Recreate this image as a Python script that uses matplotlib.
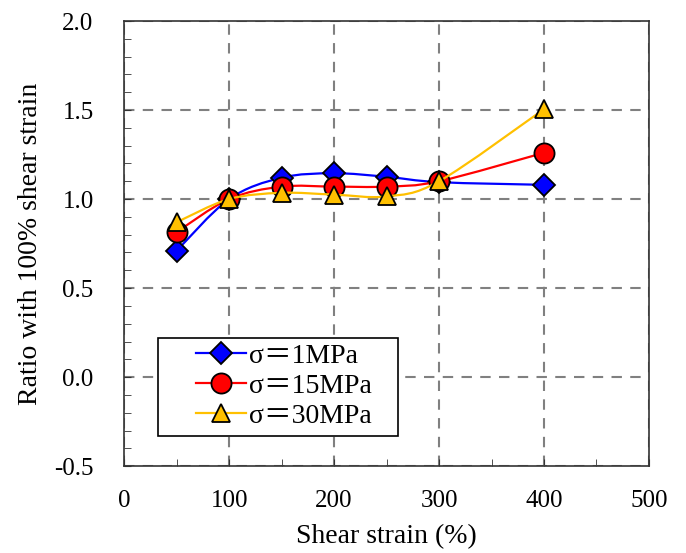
import numpy as np
import matplotlib
matplotlib.use("Agg")
import matplotlib.pyplot as plt
from matplotlib.path import Path
from matplotlib.patches import PathPatch, Rectangle
from matplotlib.lines import Line2D
from matplotlib.ticker import MultipleLocator, FormatStrFormatter

plt.rcParams['font.family'] = ['Liberation Serif', 'Noto Sans CJK SC', 'DejaVu Sans']
plt.rcParams['axes.unicode_minus'] = False

strain = [50, 100, 150, 200, 250, 300, 400]
ratio_1 = [0.71, 1.00, 1.12, 1.145, 1.125, 1.095, 1.08]
ratio_15 = [0.815, 1.00, 1.07, 1.07, 1.07, 1.10, 1.26]
ratio_30 = [0.87, 1.00, 1.035, 1.025, 1.015, 1.10, 1.505]
labels = ["σ＝1MPa", "σ＝15MPa", "σ＝30MPa"]

fig = plt.figure(figsize=(6.86, 5.53), dpi=100)
ax = fig.add_axes([0.181, 0.157, 0.765, 0.805])


def smooth_path(x, y):
    p = np.column_stack([x, y]).astype(float)
    n = len(p)
    verts = [p[0]]
    codes = [Path.MOVETO]
    for i in range(n - 1):
        p0 = p[i - 1] if i > 0 else p[i]
        p1 = p[i]
        p2 = p[i + 1]
        p3 = p[i + 2] if i + 2 < n else p[i + 1]
        c1 = p1 + (p2 - p0) / 6.0
        c2 = p2 - (p3 - p1) / 6.0
        verts += [c1, c2, p2]
        codes += [Path.CURVE4] * 3
    return Path(verts, codes)


series = [
    (ratio_1, '#0000FF', 'D', 11, '#0000FF'),
    (ratio_15, '#FF0000', 'o', 14.5, '#FF0000'),
    (ratio_30, '#FFC000', '^', 12.5, '#FFC000'),
]
handles = []
for k, (vals, col, mk, ms, fc) in enumerate(series):
    patch = PathPatch(smooth_path(strain, vals), facecolor='none', edgecolor=col,
                      lw=1.6, zorder=3 + 2 * k)
    ax.add_patch(patch)
    ax.plot(strain, vals, linestyle='none', marker=mk, markersize=ms,
            markerfacecolor=fc, markeredgecolor='black', markeredgewidth=1.3,
            zorder=4 + 2 * k)
    handles.append(Line2D([], [], color=col, lw=1.6, marker=mk, markersize=ms,
                          markerfacecolor=fc, markeredgecolor='black',
                          markeredgewidth=1.3))

ax.set_xlim(0, 500)
ax.set_ylim(-0.5, 2.0)
ax.xaxis.set_major_locator(MultipleLocator(100))
ax.xaxis.set_minor_locator(MultipleLocator(50))
ax.yaxis.set_major_locator(MultipleLocator(0.5))
ax.yaxis.set_minor_locator(MultipleLocator(0.1))
ax.yaxis.set_major_formatter(FormatStrFormatter('%.1f'))
ax.tick_params(which='both', direction='in', top=False, right=False, labelsize=18,
               color='#333333')
ax.tick_params(which='major', length=5)
ax.tick_params(which='minor', length=5)
ax.tick_params(axis='x', which='major', pad=17)
ax.tick_params(axis='y', which='major', pad=22)
ax.grid(True, which='major', color='#808080', linestyle=(0, (5, 4)), lw=1.5)
for s in ax.spines.values():
    s.set_color('#333333')
    s.set_linewidth(1.2)

ax.set_xlabel('Shear strain (%)', fontsize=20, labelpad=9)
ax.set_ylabel('Ratio with 100% shear strain', fontsize=20, labelpad=8)

# legend frame
frame = Rectangle((0.065, 0.067), 0.457, 0.221, transform=ax.transAxes,
                  facecolor='white', edgecolor='black', lw=1.2, zorder=9)
ax.add_patch(frame)
leg = ax.legend(handles, labels, loc='upper left', bbox_to_anchor=(0.137, 0.276),
                fontsize=20, frameon=False, borderpad=0, labelspacing=0.17,
                handlelength=1.8, handletextpad=0.1, borderaxespad=0)
leg.set_zorder(10)

fig.savefig('out.png', dpi=100)
